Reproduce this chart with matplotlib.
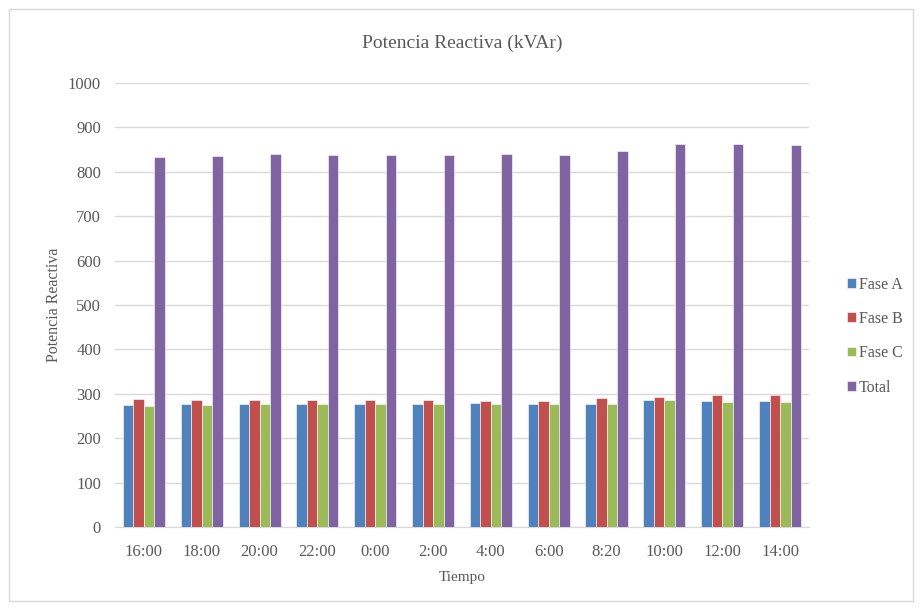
import numpy as np
import matplotlib.pyplot as plt
from matplotlib.patches import Rectangle

plt.rcParams['font.family'] = ['Liberation Serif', 'DejaVu Serif']

horas = ["16:00", "18:00", "20:00", "22:00", "0:00", "2:00", "4:00", "6:00",
         "8:20", "10:00", "12:00", "14:00"]
fase_a = [274, 277, 278, 276, 276, 276, 279, 278, 278, 286, 284, 284]
fase_b = [288, 285, 287, 286, 286, 286, 284, 283, 291, 292, 298, 298]
fase_c = [272, 274, 276, 276, 276, 277, 277, 278, 278, 286, 281, 281]
total = [833, 835, 840, 837, 837, 838, 839, 838, 846, 863, 863, 861]

series = [("Fase A", fase_a, "#4F81BD"),
          ("Fase B", fase_b, "#C0504D"),
          ("Fase C", fase_c, "#9BBB59"),
          ("Total", total, "#8064A2")]

gris = "#595959"
fig = plt.figure(figsize=(9.22, 6.10), dpi=100)
fig.patches.append(Rectangle((9 / 922, 9 / 610), 1 - 18 / 922, 1 - 18 / 610,
                             transform=fig.transFigure, fill=False,
                             edgecolor="#D9D9D9", linewidth=1))
ax = fig.add_axes([0.1247, 0.1361, 0.7527, 0.7278])

x = np.arange(len(horas))
w = 0.182
for i, (nombre, vals, color) in enumerate(series):
    ax.bar(x + (i - 1.5) * w, vals, w, color=color, label=nombre,
           edgecolor="white", linewidth=0.4, zorder=3)

ax.set_xlim(-0.5, len(horas) - 0.5)
ax.set_ylim(0, 1000)
ax.set_yticks(range(0, 1001, 100))
ax.set_xticks(x)
ax.set_xticklabels(horas)
ax.grid(axis="y", color="#D9D9D9", linewidth=1, zorder=0)
for s in ["top", "right", "left"]:
    ax.spines[s].set_visible(False)
ax.spines["bottom"].set_color("#D9D9D9")
ax.tick_params(length=0, labelsize=12, colors=gris)
ax.tick_params(axis="x", pad=12)
ax.tick_params(axis="y", pad=10)

ax.set_title("Potencia Reactiva (kVAr)", fontsize=14, color=gris, pad=25)
ax.set_xlabel("Tiempo", fontsize=11, color=gris, labelpad=8)
ax.set_ylabel("Potencia Reactiva", fontsize=11.5, color=gris, labelpad=4)

leg = ax.legend(loc="center left", bbox_to_anchor=(1.034, 0.43), frameon=False,
                fontsize=11.5, handlelength=0.55, handleheight=0.55,
                handletextpad=0.2, labelspacing=1.15)
for t in leg.get_texts():
    t.set_color(gris)

fig.savefig("out.png", dpi=100)
